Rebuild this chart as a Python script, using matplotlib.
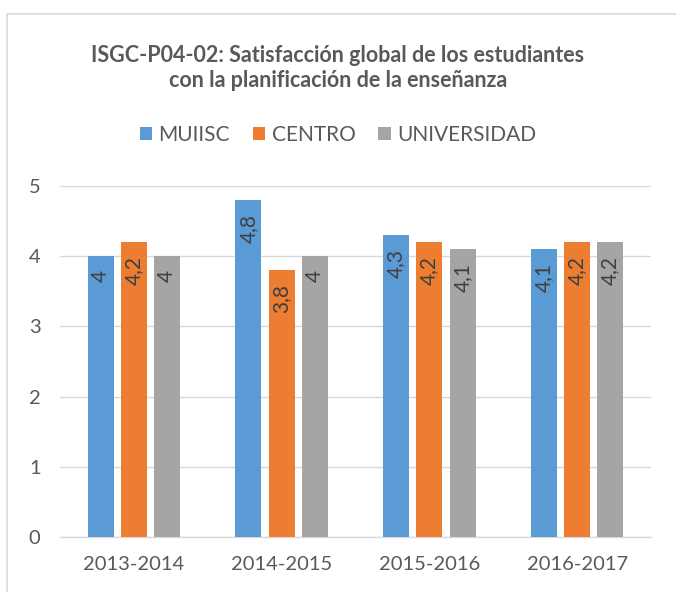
import numpy as np
import matplotlib.pyplot as plt
from matplotlib.patches import Rectangle

# datos
cursos = ['2013-2014', '2014-2015', '2015-2016', '2016-2017']
muiisc = [4, 4.8, 4.3, 4.1]
centro = [4.2, 3.8, 4.2, 4.2]
universidad = [4, 4, 4.1, 4.2]
series = ['MUIISC', 'CENTRO', 'UNIVERSIDAD']
colores = ['#5B9BD5', '#ED7D31', '#A5A5A5']

plt.rcParams['font.family'] = ['Lato', 'DejaVu Sans']
txt = '#595959'

fig = plt.figure(figsize=(6.76, 5.92), dpi=100)
fig.patches.append(Rectangle((7 / 676, -0.1), 1.2, 1 - 14 / 592 + 0.1,
                             transform=fig.transFigure, fill=False,
                             edgecolor='#D9D9D9', linewidth=1.2))

ax = fig.add_axes([60 / 676, 1 - 537 / 592, 591 / 676, 351 / 592])

x = np.arange(len(cursos))
w = 0.175
paso = 0.225
for i, (vals, nombre, c) in enumerate(zip([muiisc, centro, universidad], series, colores)):
    xs = x + (i - 1) * paso
    ax.bar(xs, vals, width=w, color=c, label=nombre, zorder=3)
    for xi, v in zip(xs, vals):
        ax.annotate(f'{v:g}'.replace('.', ','), (xi, v), xytext=(0, -10),
                    textcoords='offset points', rotation=90, ha='center',
                    va='top', fontsize=15, color='#404040', zorder=4)

ax.set_xlim(-0.5, len(cursos) - 0.5)
ax.set_ylim(0, 5)
ax.set_yticks(range(6))
ax.set_xticks(x)
ax.set_xticklabels(cursos)
ax.tick_params(length=0, labelsize=14.5, colors=txt, pad=14)
ax.tick_params(axis='y', pad=14)
ax.grid(axis='y', color='#D9D9D9', linewidth=1, zorder=0)
for s in ['top', 'right', 'left']:
    ax.spines[s].set_visible(False)
ax.spines['bottom'].set_color('#D9D9D9')
ax.spines['bottom'].set_linewidth(1)

fig.text(0.5, 1 - 68 / 592,
         'ISGC-P04-02: Satisfacción global de los estudiantes\ncon la planificación de la enseñanza',
         ha='center', va='center', fontsize=15.5, fontweight='bold', color=txt,
         linespacing=1.2)

fig.legend(loc='center', bbox_to_anchor=(0.5, 1 - 135 / 592), ncol=3, frameon=False,
           fontsize=15, labelcolor=txt, handlelength=0.6, handleheight=0.6,
           handletextpad=0.3, columnspacing=1.1)

plt.savefig('out.png', dpi=100)
